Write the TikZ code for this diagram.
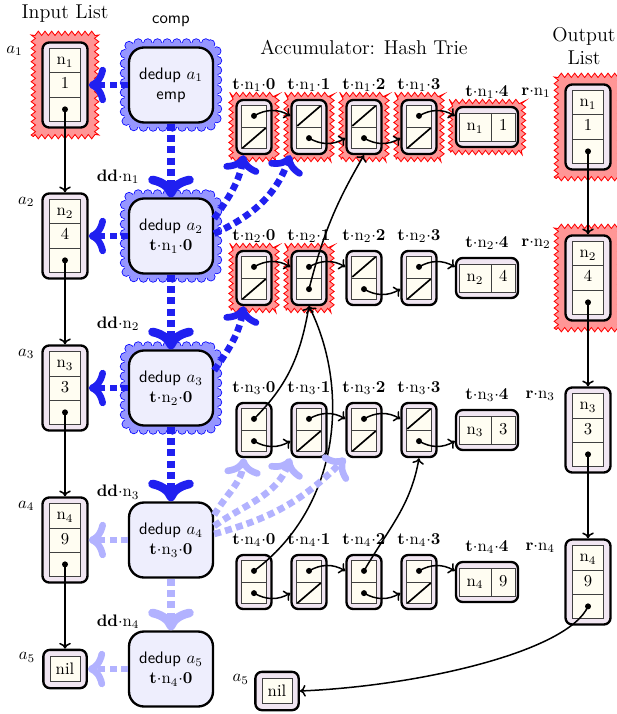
\documentclass[tikz,border=0pt]{standalone}
\usetikzlibrary{arrows.meta,calc,fit,backgrounds,shapes.multipart,decorations.pathmorphing}
\definecolor{ListLilac}{RGB}{241,230,242}
\definecolor{CellCream}{RGB}{255,253,242}
\definecolor{DedupBlue}{RGB}{238,238,253}
\definecolor{HotRed}{RGB}{255,150,150}
\definecolor{CloudBlue}{RGB}{150,150,255}
\definecolor{FlowBlue}{RGB}{32,32,240}
\definecolor{FaintBlue}{RGB}{178,178,255}
\tikzset{
  boxframe/.style={draw,line width=1.4pt,rounded corners=4pt,fill=ListLilac,inner sep=0pt},
  listframe/.style={boxframe,minimum width=27pt,minimum height=51pt},
  trieframe/.style={boxframe,minimum width=21pt,minimum height=32.4pt},
  leafframe/.style={boxframe,minimum width=37.2pt,minimum height=24pt},
  nilframe/.style={boxframe,minimum width=26pt,minimum height=23pt},
  slotbox/.style={rectangle split,draw=black!75,fill=CellCream,line width=0.5pt,align=center},
  listslots/.style={slotbox,rectangle split parts=3,text width=18.6pt,inner xsep=0pt,inner ysep=1pt},
  trieslots/.style={slotbox,rectangle split parts=2,text width=15pt,inner xsep=0pt,inner ysep=0.3pt},
  leafslots/.style={slotbox,rectangle split horizontal,rectangle split parts=2,
    inner xsep=4.5pt,inner ysep=2.4pt},
  nilslot/.style={draw=black!75,fill=CellCream,line width=0.5pt,
    minimum width=18pt,minimum height=15pt,inner sep=1pt},
  dedup/.style={draw,line width=1.4pt,rounded corners=9pt,fill=DedupBlue,
    minimum width=50.4pt,minimum height=45pt,align=center,font=\sffamily},
  hotzone/.style={draw=red,fill=HotRed,line width=0.5pt,inner sep=4.8pt,
    decorate,decoration={zigzag,segment length=4pt,amplitude=1.3pt}},
  hottrie/.style={hotzone,inner sep=2.6pt},
  cloudzone/.style={fill=CloudBlue,rounded corners=7pt,inner sep=2pt,
    preaction={draw=blue,line width=5.6pt,line cap=round,dash pattern=on 0pt off 5.8pt},
    preaction={draw=CloudBlue,line width=4.6pt,line cap=round,dash pattern=on 0pt off 5.8pt}},
  nametag/.style={inner sep=1pt,label distance=3pt},
  sidetag/.style={inner sep=1pt,anchor=north east},
  ptr/.style={line width=0.9pt,-{To[length=3.5pt,width=7pt]}},
  nullbar/.style={line width=1pt,shorten <=1pt,shorten >=1pt},
  flowarrow/.style={FlowBlue,line width=4pt,dash pattern=on 4.2pt off 2.6pt,->},
  ddarrow/.style={flowarrow,line width=5.2pt},
  faintflow/.style={FaintBlue},
  ddtag/.style={left=13pt,text=black}
}
\begin{document}
\begin{tikzpicture}[x=0.6pt,y=0.6pt]
\useasboundingbox (0,0) rectangle (616,-714);

% titles
\node[font=\large] (intitle) at (65,-14) {Input List};
\node[font=\sffamily] (comptitle) at (171,-21) {comp};
\node[font=\large] (trietitle) at (364,-47) {Accumulator: Hash Trie};
\node[font=\large,align=center] (outtitle) at (584,-46) {Output\\List};

% input list
\foreach \i/\y/\v/\s in {1/85/1/-10pt,2/236/4/-3pt,3/388/3/-3pt,4/540/9/-3pt}{
  \node[listframe] (a\i) at (65,-\y) {};
  \node[sidetag] (la\i) at ([xshift=\s,yshift=-1.5pt]a\i.north west) {$a_{\i}$};
  \node[listslots] (ac\i) at (a\i)
    {\strut$\mathrm{n}_{\i}$\nodepart{two}\strut$\v$\nodepart{three}\strut};
  \coordinate (ap\i) at ($(ac\i.two split)!.5!(ac\i.south)$);
}
\node[nilframe] (a5) at (65,-669) {};
\node[sidetag] (la5) at ([xshift=-3pt,yshift=-1pt]a5.north west) {$a_5$};
\node[nilslot] (ac5) at (a5) {nil};

% dedup calls
\node[dedup] (d1) at (171,-85) {dedup $a_1$\\emp};
\foreach \i/\j/\y in {2/1/236,3/2/388,4/3/540,5/4/669}
  \node[dedup] (d\i) at (171,-\y)
    {dedup $a_{\i}$\\$\mathbf{t}{\cdot}\mathrm{n}_{\j}{\cdot}\mathbf{0}$};

% hash trie
\foreach \row/\y/\v in {1/127/1,2/278/4,3/430/3,4/582/9}{
  \foreach \col in {0,...,3}{
    \node[trieframe,label={[nametag]above:$\mathbf{t}{\cdot}\mathrm{n}_{\row}{\cdot}\mathbf{\col}$}]
      (f\row\col) at (254+55*\col,-\y) {};
    \node[trieslots] (t\row\col) at (f\row\col) {\strut\nodepart{two}\strut};
    \coordinate (pu\row\col) at ($(t\row\col.north)!.5!(t\row\col.one split)$);
    \coordinate (pd\row\col) at ($(t\row\col.one split)!.5!(t\row\col.south)$);
  }
  \node[leafframe,label={[nametag]above:$\mathbf{t}{\cdot}\mathrm{n}_{\row}{\cdot}\mathbf{4}$}]
    (f\row4) at (487,-\y) {};
  \node[leafslots] (t\row4) at (f\row4) {\strut$\mathrm{n}_{\row}$\nodepart{two}\strut$\v$};
}

% output list
\foreach \i/\y/\v/\s in {1/127/1/-7pt,2/278/4/-7pt,3/430/3/-4.5pt,4/582/9/-4.5pt}{
  \node[listframe] (r\i) at (588,-\y) {};
  \node[sidetag] (lr\i) at ([xshift=\s,yshift=-1.5pt]r\i.north west)
    {$\mathbf{r}{\cdot}\mathrm{n}_{\i}$};
  \node[listslots] (rc\i) at (r\i)
    {\strut$\mathrm{n}_{\i}$\nodepart{two}\strut$\v$\nodepart{three}\strut};
  \coordinate (rp\i) at ($(rc\i.two split)!.5!(rc\i.south)$);
}
\node[nilframe] (rnil) at (277,-691) {};
\node[sidetag] (lrnil) at ([xshift=-2pt,yshift=-1pt]rnil.north west) {$a_5$};
\node[nilslot] (rc5) at (rnil) {nil};

% touched cells
\begin{scope}[on background layer]
  \foreach \n in {a1,r1,r2}
    \node[hotzone,fit=(\n)] (hot\n) {};
  \foreach \n in {f10,f11,f12,f13,f14,f20,f21}
    \node[hottrie,fit=(\n)] (hot\n) {};
  \foreach \n in {d1,d2,d3}
    \node[cloudzone,fit=(\n)] (cloud\n) {};
\end{scope}

% empty slots and pointers
\foreach \n in {t11,t12,t22,t33}
  \draw[nullbar] (\n.one split west) -- (\n.north east);
\foreach \n in {t10,t13,t20,t23,t31,t32,t41,t43}
  \draw[nullbar] (\n.south west) -- (\n.one split east);
\foreach \p in {ap1,ap2,ap3,ap4,rp1,rp2,rp3,rp4,
    pu10,pu13,pu20,pu21,pu23,pu30,pu31,pu32,pu40,pu41,pu42,pu43,
    pd11,pd12,pd21,pd22,pd30,pd33,pd40,pd42}
  \fill (\p) circle (1.8pt);

\foreach \i/\j in {1/2,2/3,3/4,4/5} \draw[ptr] (ap\i) -- (a\j);
\foreach \i/\j in {1/2,2/3,3/4} \draw[ptr] (rp\i) -- (r\j);
\draw[ptr] (rp4) .. controls +(-20,-45) and +(120,5) .. (rnil.east);
\foreach \p/\n in {pu10/f11,pu13/f14,pu20/f21,pu21/f22,pu23/f24,pu31/f32,pu32/f33,pu41/f42,pu43/f44}
  \draw[ptr] (\p) to[bend left=30] (\n.west |- \p);
\foreach \p/\n in {pd11/f12,pd12/f13,pd22/f23,pd30/f31,pd33/f34,pd40/f41,pd42/f43}
  \draw[ptr] (\p) to[bend right=30] (\n.west |- \p);
\draw[ptr] (pd21) to[bend left=8] (f12.south);
\draw[ptr] (pu30) to[out=45,in=-100] (f21.south);
\draw[ptr] (pu40) .. controls +(85,63) and +(42,-85) .. (f21.south);
\draw[ptr] (pu42) to[out=60,in=-100] (f33.south);

% dedup flow
\draw[ddarrow] (d1) -- node[ddtag,pos=.72] {$\mathbf{dd}{\cdot}\mathrm{n}_1$} (d2);
\draw[ddarrow] (d2) -- node[ddtag,pos=.66] {$\mathbf{dd}{\cdot}\mathrm{n}_2$} (d3);
\draw[ddarrow] (d3) -- node[ddtag,pos=.88] {$\mathbf{dd}{\cdot}\mathrm{n}_3$} (d4);
\draw[ddarrow,faintflow] (d4) -- node[ddtag,pos=.83] {$\mathbf{dd}{\cdot}\mathrm{n}_4$} (d5);
\foreach \i in {1,2,3} \draw[flowarrow] (d\i) -- (a\i);
\foreach \i in {4,5} \draw[flowarrow,faintflow] (d\i) -- (a\i);
\draw[flowarrow] (d2.22) to[out=55,in=-100] (f10.-110);
\draw[flowarrow] (d2.3) to[out=25,in=-110] (f11.south west);
\draw[flowarrow] (d3.22) to[out=55,in=-100] (f20.-110);
\draw[flowarrow,faintflow] (d4.30) to[out=60,in=-95] (f30.-110);
\draw[flowarrow,faintflow] (d4.18) to[out=35,in=-110] (f31.south west);
\draw[flowarrow,faintflow] (d4.8) to[out=15,in=-135] (f32.south west);
\end{tikzpicture}
\end{document}
